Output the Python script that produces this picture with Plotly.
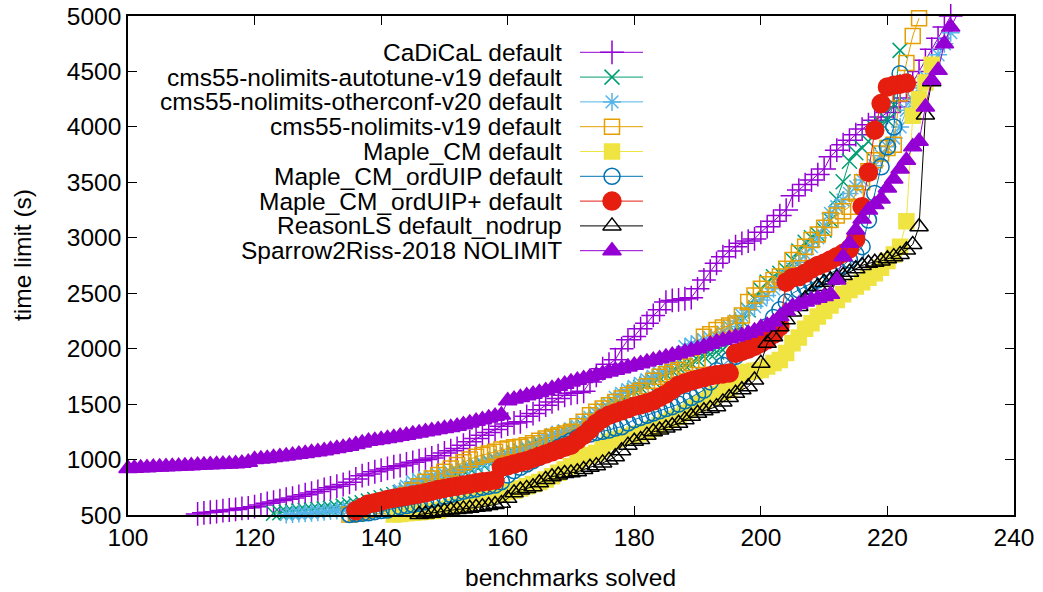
import plotly.graph_objects as go

# ---------------- data (time in seconds for each solved benchmark) ----------------
cadical_start = 111
cadical_t = [510, 520, 525, 530, 540, 545, 550, 560, 565, 575, 590, 605, 617, 630, 642, 653, 668, 683, 698, 712,
             730, 745, 760, 775, 795, 825, 855, 870, 890, 905, 920, 935, 945, 960, 975, 990, 1000, 1015, 1035, 1060,
             1080, 1100, 1130, 1160, 1190, 1220, 1245, 1270, 1300, 1320, 1330, 1340, 1390, 1415, 1450, 1490, 1520, 1550, 1580, 1597,
             1605, 1615, 1700, 1760, 1820, 1860, 1900, 2000, 2080, 2110, 2180, 2230, 2300, 2350, 2420, 2435, 2440, 2450, 2460, 2540,
             2620, 2700, 2770, 2830, 2880, 2920, 2950, 2970, 2990, 3050, 3100, 3150, 3200, 3250, 3380, 3430, 3480, 3520, 3570, 3620,
             3730, 3790, 3840, 3880, 3930, 3980, 4020, 4060, 4090, 4130, 4180, 4230, 4260, 4400, 4500, 4600, 4700, 4800, 4900, 5000]

autotune_start = 123
autotune_t = [515, 520, 525, 530, 535, 540, 545, 550, 555, 560, 570, 580, 590, 600, 610, 625, 640, 655, 670, 685,
              700, 720, 740, 760, 780, 800, 820, 840, 860, 880, 900, 920, 940, 960, 980, 1000, 1020, 1040, 1060, 1080,
              1100, 1120, 1140, 1160, 1180, 1200, 1220, 1240, 1270, 1300, 1340, 1380, 1420, 1460, 1500, 1540, 1580, 1620, 1650, 1680,
              1710, 1740, 1770, 1800, 1830, 1850, 1868, 1900, 1930, 1950, 1970, 1988, 2050, 2150, 2250, 2350, 2450, 2530, 2600, 2648,
              2680, 2709, 2800, 2880, 2960, 3000, 3030, 3070, 3160, 3350, 3505, 3690, 3766, 3810, 3869, 3990, 4030, 4060, 4200, 4690]

otherconf_start = 125
otherconf_t = [505, 510, 513, 516, 520, 525, 530, 535, 540, 548, 555, 565, 572, 580, 590, 600, 640, 680, 720, 760,
               800, 815, 830, 845, 860, 872, 883, 900, 920, 940, 955, 972, 990, 1010, 1030, 1050, 1070, 1090, 1110, 1130,
               1160, 1190, 1226, 1240, 1255, 1271, 1300, 1340, 1380, 1420, 1460, 1500, 1560, 1597, 1630, 1660, 1687, 1720, 1750, 1780,
               1808, 1880, 1950, 2018, 2040, 2060, 2080, 2095, 2108, 2150, 2200, 2250, 2300, 2348, 2380, 2439, 2480, 2540, 2600, 2660,
               2720, 2780, 2850, 2920, 3000, 3100, 3220, 3280, 3340, 3400, 3460, 3520, 3580, 3650, 3740, 3820, 3900, 4000, 4150, 4250,
               4350, 4450, 4570, 4650, 4750, 4850]

v19_start = 135
v19_t = [505, 515, 530, 545, 560, 580, 600, 625, 650, 680, 720, 760, 800, 830, 860, 890, 920, 950, 975, 1000,
         1026, 1040, 1055, 1071, 1090, 1100, 1110, 1116, 1130, 1146, 1170, 1190, 1206, 1220, 1235, 1251, 1300, 1341, 1400, 1430,
         1460, 1490, 1520, 1550, 1580, 1600, 1620, 1660, 1710, 1747, 1770, 1790, 1808, 1840, 1870, 1898, 2108, 2130, 2168, 2190,
         2210, 2228, 2300, 2420, 2480, 2540, 2580, 2620, 2650, 2720, 2800, 2860, 2920, 2979, 3030, 3090, 3160, 3200, 3240, 3280,
         3400, 3500, 3600, 3700, 3760, 3810, 3840, 4300, 4576, 4820, 4980]

maplecm_start = 142
maplecm_t = [505, 510, 515, 520, 525, 530, 535, 540, 555, 570, 585, 600, 620, 635, 650, 665, 680, 695, 707, 720,
             740, 760, 780, 797, 820, 850, 880, 910, 940, 980, 1020, 1040, 1060, 1100, 1160, 1180, 1195, 1210, 1225, 1235,
             1250, 1280, 1310, 1340, 1365, 1387, 1420, 1460, 1500, 1530, 1567, 1590, 1610, 1627, 1700, 1777, 1790, 1800, 1807, 1840,
             1870, 1898, 1960, 2048, 2100, 2180, 2230, 2290, 2340, 2390, 2440, 2490, 2530, 2560, 2600, 2640, 2680, 2730, 2790, 2850,
             2920, 3150, 4100, 4250, 4400, 4560]

orduip_start = 135
orduip_t = [505, 510, 515, 520, 530, 540, 545, 560, 575, 585, 595, 605, 620, 640, 655, 670, 685, 700, 715, 725,
            735, 750, 760, 770, 800, 860, 900, 930, 960, 990, 1020, 1050, 1080, 1110, 1140, 1170, 1200, 1215, 1230, 1245,
            1255, 1266, 1285, 1296, 1330, 1360, 1380, 1400, 1420, 1440, 1460, 1477, 1500, 1530, 1560, 1590, 1627, 1700, 1800, 1850,
            1900, 1930, 1980, 2030, 2100, 2150, 2200, 2280, 2350, 2420, 2500, 2530, 2560, 2590, 2620, 2650, 2680, 2710, 2750, 2800,
            2850, 2920, 3160, 3400, 3640, 3820, 4000, 4480]

orduipp_start = 136
orduipp_t = [540, 570, 600, 610, 625, 640, 650, 660, 670, 680, 690, 700, 715, 730, 740, 750, 760, 770, 780, 790,
             800, 805, 815, 930, 945, 960, 975, 990, 1010, 1030, 1050, 1070, 1090, 1110, 1130, 1176, 1220, 1270, 1326, 1370,
             1400, 1420, 1440, 1460, 1480, 1495, 1510, 1530, 1560, 1590, 1630, 1670, 1690, 1710, 1725, 1740, 1755, 1765, 1772, 1780,
             1958, 1975, 1995, 2020, 2050, 2080, 2130, 2200, 2600, 2640, 2650, 2680, 2720, 2750, 2770, 2800, 2830, 2860, 2900, 2990,
             3280, 3590, 3970, 4210, 4360, 4375, 4385, 4395]

reasonls_start = 146
reasonls_t = [505, 510, 515, 525, 535, 545, 550, 555, 560, 570, 575, 585, 595, 605, 650, 700, 725, 740, 755, 790,
              820, 845, 860, 875, 880, 890, 910, 930, 945, 970, 995, 1026, 1080, 1130, 1165, 1180, 1220, 1250, 1266, 1285,
              1305, 1327, 1360, 1390, 1417, 1440, 1460, 1477, 1520, 1560, 1597, 1630, 1657, 1717, 1868, 2048, 2108, 2198, 2260, 2330,
              2380, 2450, 2500, 2560, 2600, 2620, 2640, 2660, 2690, 2720, 2750, 2770, 2780, 2790, 2810, 2830, 2850, 2889, 2940, 3100,
              4107, 4407]

sparrow_start = 100
sparrow_t = [920, 922, 925, 927, 930, 932, 935, 937, 940, 942, 945, 948, 950, 953, 955, 958, 960, 963, 966, 975,
             1000, 1005, 1010, 1018, 1025, 1032, 1040, 1048, 1055, 1063, 1071, 1080, 1090, 1100, 1110, 1120, 1135, 1150, 1165, 1172,
             1180, 1190, 1200, 1210, 1220, 1230, 1240, 1250, 1260, 1270, 1280, 1290, 1300, 1315, 1330, 1345, 1360, 1375, 1390, 1402,
             1530, 1545, 1560, 1575, 1590, 1605, 1620, 1640, 1660, 1680, 1700, 1715, 1730, 1745, 1760, 1775, 1790, 1805, 1820, 1835,
             1850, 1865, 1880, 1895, 1910, 1925, 1940, 1955, 1970, 1985, 2000, 2020, 2040, 2060, 2075, 2090, 2105, 2120, 2140, 2160,
             2190, 2210, 2240, 2290, 2340, 2380, 2400, 2420, 2440, 2455, 2470, 2490, 2620, 2830, 2950, 3070, 3170, 3250, 3300, 3350,
             3450, 3530, 3620, 3700, 3820, 3870, 4180, 4420, 4510, 4750, 4900, 5010]

series_names = ["CaDiCaL default", "cms55-nolimits-autotune-v19 default", "cms55-nolimits-otherconf-v20 default",
                "cms55-nolimits-v19 default", "Maple_CM default", "Maple_CM_ordUIP default",
                "Maple_CM_ordUIP+ default", "ReasonLS default_nodrup", "Sparrow2Riss-2018 NOLIMIT"]
series_starts = [cadical_start, autotune_start, otherconf_start, v19_start, maplecm_start, orduip_start,
                 orduipp_start, reasonls_start, sparrow_start]
series_times = [cadical_t, autotune_t, otherconf_t, v19_t, maplecm_t, orduip_t, orduipp_t, reasonls_t, sparrow_t]

x_ticks = [100, 120, 140, 160, 180, 200, 220, 240]
y_ticks = [500, 1000, 1500, 2000, 2500, 3000, 3500, 4000, 4500, 5000]

# ---------------- styles ----------------
colors = ["#9400d3", "#009e73", "#56b4e9", "#e69f00", "#f0e442", "#0072b2", "#e51e10", "#000000", "#9400d3"]
symbols = ["cross-thin-open", "x-thin-open", "asterisk-open", "square-open", "square", "circle-open", "circle",
           "triangle-up-open", "triangle-up"]
sizes = [17, 15, 15, 15, 15, 16, 18, 16, 16]

FONT = "Liberation Sans, Arial, Helvetica, sans-serif"
FS = 24.5

fig = go.Figure()
for name, start, ts, c, s, sz in zip(series_names, series_starts, series_times, colors, symbols, sizes):
    xs = list(range(start, start + len(ts)))
    fig.add_trace(go.Scatter(
        x=xs, y=ts, mode="lines+markers", name=name, cliponaxis=False,
        line=dict(color=c, width=1),
        marker=dict(symbol=s, size=sz, color=c, line=dict(color=c, width=1.5)),
        showlegend=False))

# ---------------- gnuplot-style key (text right aligned, sample at right) ----------------
L, R, T, B = 128, 29, 16, 77
W, H = 1043, 592
pw, ph = W - L - R, H - T - B
def px2x(px):
    return (px - L) / pw
def py2y(py):
    return (H - B - py) / ph

row0, drow = 52.3, 24.8
for i, (name, c, s, sz) in enumerate(zip(series_names, colors, symbols, sizes)):
    yy = py2y(row0 + i * drow)
    fig.add_annotation(x=px2x(564), y=yy, xref="paper", yref="paper", text=name, showarrow=False,
                       xanchor="right", yanchor="middle", font=dict(family=FONT, size=FS, color="black"))
    fig.add_trace(go.Scatter(x=[px2x(580), px2x(643)], y=[yy, yy], mode="lines", xaxis="x2", yaxis="y2",
                             line=dict(color=c, width=1), showlegend=False, hoverinfo="skip", cliponaxis=False))
    fig.add_trace(go.Scatter(x=[px2x(612)], y=[yy], mode="markers", xaxis="x2", yaxis="y2",
                             marker=dict(symbol=s, size=sz, color=c, line=dict(color=c, width=1.5)),
                             showlegend=False, hoverinfo="skip", cliponaxis=False))

# axis titles
fig.add_annotation(x=px2x(570), y=py2y(577), xref="paper", yref="paper", text="benchmarks solved", showarrow=False,
                   xanchor="center", yanchor="middle", font=dict(family=FONT, size=FS, color="black"))
fig.add_annotation(x=px2x(22), y=py2y(255), xref="paper", yref="paper", text="time limit (s)", showarrow=False,
                   textangle=-90, xanchor="center", yanchor="middle", font=dict(family=FONT, size=FS, color="black"))

axis_common = dict(showgrid=False, zeroline=False, showline=True, linecolor="black", linewidth=1.5, mirror="allticks",
                   ticks="inside", ticklen=9, tickwidth=1.2, tickcolor="black", automargin=False,
                   tickfont=dict(family=FONT, size=FS, color="black"))
fig.update_layout(
    width=W, height=H, margin=dict(l=L, r=R, t=T, b=B, autoexpand=False),
    paper_bgcolor="white", plot_bgcolor="white", showlegend=False,
    xaxis=dict(range=[100, 240], tickvals=x_ticks, **axis_common),
    yaxis=dict(range=[500, 5000], tickvals=y_ticks, **axis_common),
    xaxis2=dict(range=[0, 1], overlaying="x", visible=False, fixedrange=True),
    yaxis2=dict(range=[0, 1], overlaying="y", visible=False, fixedrange=True),
)
fig.write_html("out.html", config={"displayModeBar": False},
               post_script="document.body.style.margin='0';document.body.style.overflow='hidden';")
